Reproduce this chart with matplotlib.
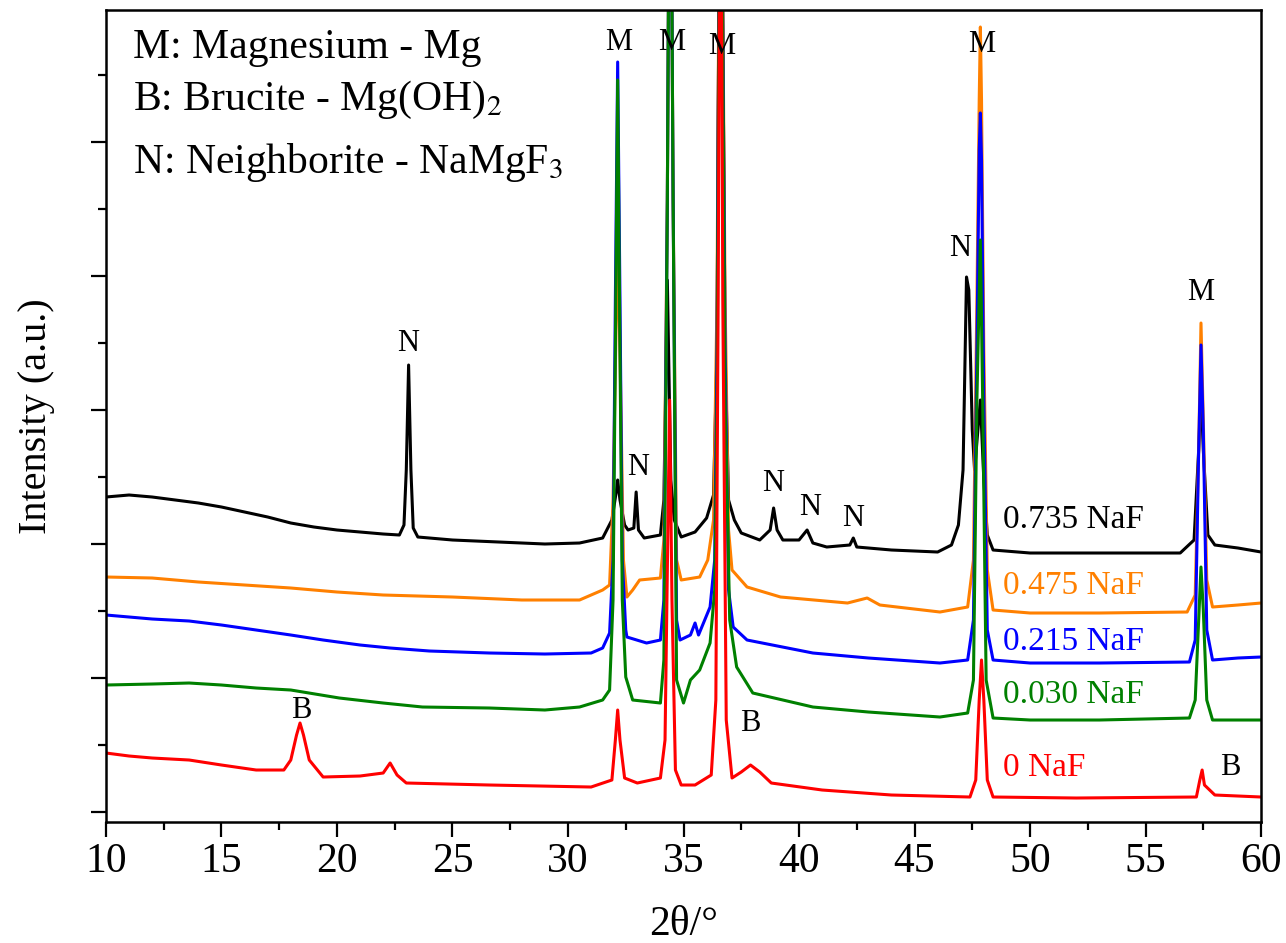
import matplotlib
matplotlib.use("Agg")
import matplotlib.pyplot as plt
from matplotlib.ticker import MultipleLocator

plt.rcParams['font.family'] = ['Liberation Serif', 'DejaVu Serif']
plt.rcParams['mathtext.fontset'] = 'stix'

# stacked XRD patterns, intensity in a.u. (curves already offset)
x_0735 = [10.0, 11.0, 12.0, 13.0, 14.0, 15.0, 16.0, 17.0, 18.0, 19.0, 20.0, 21.0, 22.0, 22.7,
          22.9, 23.0, 23.1, 23.2, 23.3, 23.5, 25.0, 27.0, 29.0, 30.5, 31.5, 31.9, 32.1, 32.15,
          32.25, 32.45, 32.6, 32.85, 32.95, 33.05, 33.3, 34.0, 34.15, 34.3, 34.45, 34.6, 34.9,
          35.5, 36.0, 36.3, 36.45, 36.6, 36.8, 36.95, 37.2, 37.5, 38.3, 38.75, 38.9, 39.05,
          39.3, 40.0, 40.35, 40.6, 41.2, 42.2, 42.35, 42.5, 44.0, 46.0, 46.6, 46.9, 47.1,
          47.25, 47.35, 47.5, 47.6, 47.85, 48.0, 48.15, 48.4, 50.0, 53.0, 56.5, 57.1, 57.3,
          57.4, 57.5, 57.7, 58.0, 59.0, 60.0]
y_0735 = [315, 317, 315, 312, 309, 305, 300, 295, 289, 285, 282, 280, 278, 277,
          287, 342, 447, 342, 284, 275, 272, 270, 268, 269, 274, 292, 322, 332,
          312, 287, 282, 284, 320, 282, 274, 277, 312, 532, 332, 292, 275,
          280, 294, 317, 462, 1112, 462, 312, 292, 279, 272, 282, 304, 282,
          272, 272, 282, 269, 265, 267, 274, 265, 262, 260, 267, 287, 342,
          535, 522, 382, 342, 412, 332, 277, 262, 259, 259, 259, 272, 362,
          422, 362, 277, 267, 264, 260]

x_0475 = [10.0, 12.0, 14.0, 16.0, 18.0, 20.0, 22.0, 25.0, 28.0, 30.5, 31.5, 31.8, 31.95,
          32.1, 32.15, 32.25, 32.4, 32.55, 32.8, 33.1, 34.0, 34.15, 34.3, 34.42, 34.55,
          34.7, 34.9, 35.7, 36.05, 36.3, 36.45, 36.6, 36.8, 36.95, 37.1, 37.75, 39.2,
          42.1, 42.95, 43.5, 46.1, 47.3, 47.55, 47.7, 47.8, 47.85, 47.9, 48.0, 48.15,
          48.4, 50.0, 53.0, 56.8, 57.15, 57.3, 57.4, 57.5, 57.65, 57.9, 59.0, 60.0]
y_0475 = [235, 234, 230, 227, 224, 220, 217, 215, 212, 212, 222, 227, 312,
          512, 562, 462, 252, 215, 222, 232, 234, 272, 612, 1112, 612,
          252, 232, 235, 252, 292, 512, 1112, 512, 282, 242, 225, 215,
          209, 214, 207, 200, 205, 252, 512, 712, 785, 712, 462, 242,
          202, 199, 199, 200, 217, 362, 489, 392, 232, 205, 207, 209]

x_0215 = [10.0, 11.0, 12.0, 13.6, 15.0, 16.5, 18.0, 19.4, 21.0, 22.3, 24.0, 26.6, 29.0,
          31.0, 31.5, 31.8, 31.95, 32.05, 32.15, 32.25, 32.35, 32.5, 32.55, 33.4, 34.0,
          34.15, 34.3, 34.42, 34.55, 34.7, 34.85, 35.3, 35.5, 35.65, 36.15, 36.35, 36.45,
          36.6, 36.8, 36.95, 37.15, 37.75, 40.6, 43.0, 46.1, 47.3, 47.55, 47.7, 47.8,
          47.85, 47.9, 48.0, 48.15, 48.4, 50.0, 53.0, 56.9, 57.15, 57.3, 57.4, 57.5,
          57.65, 57.9, 59.0, 60.0]
y_0215 = [197, 195, 193, 191, 187, 182, 177, 172, 167, 164, 161, 159, 158,
          159, 164, 179, 252, 512, 750, 512, 252, 182, 175, 169, 172,
          212, 612, 1112, 612, 192, 172, 177, 189, 177, 205, 252, 462,
          1112, 462, 222, 185, 172, 159, 154, 149, 152, 192, 462, 662,
          699, 652, 412, 182, 152, 149, 149, 150, 172, 362, 467, 382,
          182, 152, 154, 155]

x_0030 = [10.0, 12.0, 13.6, 15.0, 16.5, 18.0, 20.1, 22.0, 23.7, 26.6, 29.0, 30.5, 31.5,
          31.8, 31.95, 32.05, 32.15, 32.25, 32.35, 32.5, 32.8, 34.0, 34.15, 34.3, 34.42,
          34.55, 34.7, 35.0, 35.3, 35.7, 36.15, 36.35, 36.45, 36.6, 36.8, 37.0, 37.3,
          38.0, 40.6, 43.0, 46.1, 47.3, 47.55, 47.7, 47.85, 47.95, 48.1, 48.4, 50.0,
          53.0, 56.9, 57.15, 57.3, 57.4, 57.5, 57.65, 57.9, 60.0]
y_0030 = [127, 128, 129, 127, 124, 122, 114, 109, 105, 104, 102, 105, 112,
          122, 212, 462, 732, 462, 212, 135, 112, 109, 152, 612, 1112,
          612, 132, 109, 132, 142, 169, 222, 412, 1112, 412, 192, 145,
          119, 105, 100, 95, 99, 132, 412, 572, 412, 132, 94, 92,
          92, 94, 112, 192, 245, 202, 112, 92, 92]

x_0 = [10.0, 11.0, 12.0, 13.6, 15.0, 16.5, 17.7, 18.0, 18.25, 18.4, 18.55, 18.8, 19.4,
       21.0, 22.0, 22.3, 22.6, 23.0, 26.6, 31.0, 31.9, 32.05, 32.15, 32.25, 32.45, 33.0,
       34.0, 34.2, 34.4, 34.5, 34.65, 34.9, 35.5, 36.2, 36.4, 36.5, 36.6, 36.7, 36.85,
       37.1, 37.5, 37.9, 38.3, 38.8, 41.0, 44.0, 47.4, 47.65, 47.8, 47.9, 48.0, 48.15,
       48.4, 52.0, 57.2, 57.35, 57.45, 57.55, 58.0, 60.0]
y_0 = [59, 56, 54, 52, 47, 42, 42, 52, 77, 89, 77, 52, 35,
       36, 39, 49, 37, 29, 27, 25, 32, 72, 102, 72, 34, 29,
       34, 72, 412, 212, 42, 27, 27, 37, 112, 512, 1112, 512, 92,
       34, 40, 47, 40, 29, 22, 17, 15, 32, 112, 152, 112, 32,
       15, 14, 15, 32, 42, 27, 17, 15]

samples = ['0.735 NaF', '0.475 NaF', '0.215 NaF', '0.030 NaF', '0 NaF']
colors = ['black', '#FF8000', '#0000FF', '#008000', '#FF0000']
label_y = [292, 226, 170, 117, 44]

phase_text = ['M: Magnesium - Mg', r'B: Brucite - Mg(OH)$_2$', r'N: Neighborite - NaMgF$_3$']
phase_y = [764, 712, 649]

peak_labels = ['M', 'M', 'M', 'M', 'M', 'N', 'N', 'N', 'N', 'N', 'N', 'B', 'B', 'B']
peak_x = [32.2, 34.5, 36.67, 47.92, 57.4, 23.1, 33.03, 38.87, 40.48, 42.34, 46.97, 18.44, 37.88, 58.66]
peak_y = [769, 769, 765, 767, 520, 469, 345, 329, 305, 294, 564, 102, 89, 45]

fig = plt.figure(figsize=(12.86, 9.43), dpi=100)
ax = fig.add_axes([0.0824, 0.1283, 0.8982, 0.8611])

xs = [x_0735, x_0475, x_0215, x_0030, x_0]
ys = [y_0735, y_0475, y_0215, y_0030, y_0]
for xx, yy, c in zip(xs, ys, colors):
    ax.plot(xx, yy, color=c, lw=2.2)

for s, c, yl in zip(samples, colors, label_y):
    ax.text(48.83, yl, s, color=c, fontsize=24, ha='left', va='center')

for t, yl in zip(phase_text, phase_y):
    ax.text(11.17, yl, t, fontsize=30, ha='left', va='center')

for t, px, py in zip(peak_labels, peak_x, peak_y):
    ax.text(px, py, t, fontsize=22, ha='center', va='center')

ax.set_xlim(10, 60)
ax.set_ylim(-10, 802)
ax.xaxis.set_major_locator(MultipleLocator(5))
ax.xaxis.set_minor_locator(MultipleLocator(2.5))
ax.yaxis.set_major_locator(MultipleLocator(134))
ax.yaxis.set_minor_locator(MultipleLocator(67))
ax.tick_params(which='major', direction='out', length=11, width=1.6, labelsize=30, top=False, right=False)
ax.tick_params(which='minor', direction='out', length=6, width=1.6, top=False, right=False)
ax.tick_params(axis='y', which='both', labelleft=False)
for sp in ax.spines.values():
    sp.set_linewidth(1.8)

ax.set_xlabel('2θ/°', fontsize=30)
ax.set_ylabel('Intensity (a.u.)', fontsize=29)
ax.xaxis.label.set_va('center')
ax.yaxis.label.set_va('center')
ax.xaxis.set_label_coords(0.5, -0.126)
ax.yaxis.set_label_coords(-0.06, 0.5)

fig.savefig('out.png', dpi=100)
